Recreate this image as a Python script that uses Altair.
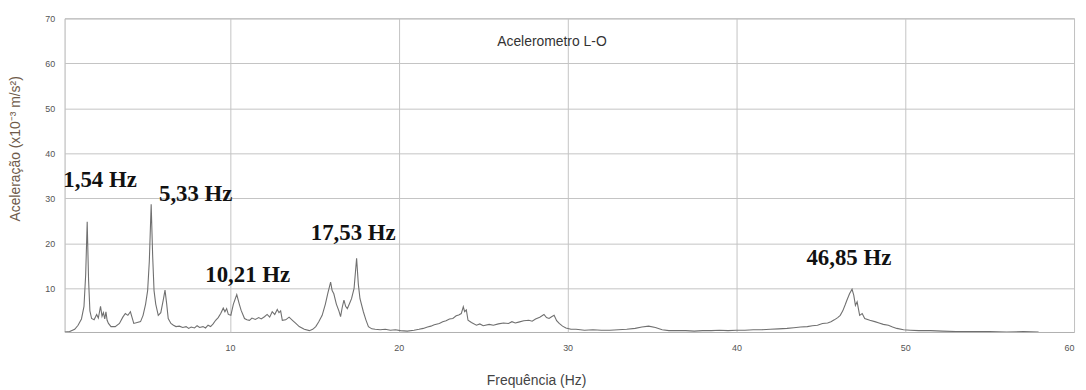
import altair as alt
import pandas as pd

freq = [0.2, 0.5, 0.8, 1.0, 1.2, 1.35, 1.45, 1.54, 1.62, 1.7, 1.8, 1.95, 2.1, 2.2, 2.33, 2.42, 2.5, 2.58, 2.65, 2.72,
        2.8, 2.95, 3.2, 3.45, 3.65, 3.8, 3.95, 4.1, 4.2, 4.3, 4.5, 4.7, 4.85, 5.0, 5.12, 5.22, 5.33, 5.42, 5.5, 5.6,
        5.75, 5.9, 6.05, 6.15, 6.25, 6.34, 6.5, 6.65, 6.8, 7.0, 7.2, 7.4, 7.55, 7.7, 7.9, 8.05, 8.2, 8.4, 8.55, 8.7,
        8.85, 9.0, 9.15, 9.3, 9.45, 9.6, 9.7, 9.8, 9.9, 10.05, 10.2, 10.4, 10.55, 10.66, 10.86, 11.0, 11.15, 11.3, 11.5, 11.7,
        11.85, 12.04, 12.2, 12.35, 12.5, 12.65, 12.8, 12.9, 13.0, 13.1, 13.3, 13.5, 13.7, 13.9, 14.1, 14.4, 14.7, 14.9, 15.08, 15.25,
        15.46, 15.65, 15.8, 15.96, 16.05, 16.15, 16.3, 16.45, 16.55, 16.65, 16.75, 16.85, 16.95, 17.1, 17.2, 17.35, 17.5, 17.6, 17.7, 17.9,
        18.05, 18.2, 18.4, 18.6, 18.9, 19.2, 19.5, 19.8, 20.1, 20.5, 20.9, 21.2, 21.45, 21.7, 21.9, 22.1, 22.4, 22.6, 22.8, 23.0,
        23.2, 23.4, 23.55, 23.7, 23.82, 23.9, 24.0, 24.1, 24.3, 24.6, 24.8, 25.0, 25.35, 25.6, 25.9, 26.2, 26.5, 26.7, 26.9, 27.1,
        27.4, 27.7, 27.9, 28.1, 28.35, 28.6, 28.75, 28.9, 29.05, 29.2, 29.35, 29.5, 29.7, 29.9, 30.2, 30.5, 31.0, 31.5, 32.0, 32.5,
        33.0, 33.5, 34.0, 34.4, 34.8, 35.2, 35.6, 36.0, 36.5, 37.0, 37.5, 38.0, 38.5, 39.0, 39.5, 40.0, 40.5, 41.0, 41.5, 42.0,
        42.5, 43.0, 43.4, 43.8, 44.2, 44.5, 44.8, 45.1, 45.4, 45.6, 45.8, 46.0, 46.15, 46.3, 46.45, 46.55, 46.7, 46.85, 46.95, 47.05,
        47.15, 47.3, 47.45, 47.6, 47.9, 48.2, 48.45, 48.7, 49.0, 49.25, 49.5, 49.9, 50.3, 50.8, 51.5, 52.2, 53.0, 54.0, 55.0, 56.0,
        57.0, 57.9]

amp = [0.3, 0.4, 0.9, 1.8, 3.2, 6.0, 13.0, 24.8, 12.0, 5.0, 3.3, 3.0, 4.2, 3.4, 6.0, 3.8, 4.6, 3.2, 4.8, 2.9,
       2.2, 1.5, 1.5, 2.2, 3.6, 4.4, 4.0, 4.8, 3.5, 2.2, 2.4, 2.6, 4.0, 6.5, 9.5, 16.0, 28.7, 17.0, 9.5, 6.5,
       4.0, 4.6, 7.5, 9.6, 6.5, 3.3, 2.2, 1.8, 1.5, 1.6, 1.3, 1.5, 1.1, 1.4, 1.2, 1.7, 1.3, 1.5, 1.2, 1.8,
       1.5, 2.1, 2.9, 3.5, 4.4, 5.6, 4.8, 5.5, 4.2, 4.0, 6.5, 8.6, 6.5, 5.1, 3.3, 3.0, 2.9, 3.4, 3.1, 3.5,
       3.2, 3.7, 4.2, 3.6, 4.8, 4.2, 5.3, 4.6, 5.0, 2.9, 3.0, 3.6, 2.9, 2.2, 1.5, 0.9, 0.6, 0.9, 1.5, 2.5,
       4.0, 6.5, 9.0, 11.4, 9.5, 8.8, 6.5, 5.0, 3.7, 5.8, 7.4, 6.0, 5.5, 6.8, 7.7, 10.0, 16.7, 11.0, 7.7, 4.8,
       3.0, 1.5, 1.0, 0.9, 0.8, 0.9, 0.7, 0.8, 0.6, 0.5, 0.7, 0.9, 1.1, 1.4, 1.6, 1.9, 2.2, 2.6, 2.8, 3.2,
       3.3, 3.9, 4.1, 4.4, 5.9, 4.8, 5.2, 2.9, 2.4, 1.8, 2.1, 1.7, 2.0, 1.8, 2.1, 2.3, 2.2, 2.6, 2.3, 2.5,
       2.8, 2.9, 2.7, 3.2, 3.6, 4.2, 3.5, 3.3, 3.7, 4.0, 2.8, 2.2, 1.6, 1.2, 0.9, 0.9, 0.7, 0.8, 0.7, 0.7,
       0.8, 0.9, 1.1, 1.4, 1.6, 1.3, 0.8, 0.6, 0.6, 0.6, 0.5, 0.6, 0.6, 0.7, 0.6, 0.7, 0.7, 0.8, 0.8, 0.9,
       1.0, 1.1, 1.25, 1.4, 1.5, 1.7, 1.8, 2.2, 2.3, 2.6, 3.0, 3.5, 4.0, 5.0, 6.4, 7.4, 8.8, 9.8, 8.5, 6.2,
       7.0, 4.0, 4.4, 3.3, 2.9, 2.6, 2.3, 2.0, 1.8, 1.4, 1.1, 0.8, 0.7, 0.6, 0.6, 0.5, 0.4, 0.4, 0.4, 0.3,
       0.4, 0.3]

label_text = ["1,54 Hz", "5,33 Hz", "10,21 Hz", "17,53 Hz", "46,85 Hz"]
label_freq = [2.3, 7.97, 11.05, 17.3, 46.66]
label_amp = [34.0, 30.9, 12.9, 22.3, 16.8]

x_ticks = [10, 20, 30, 40, 50, 60]
y_ticks = [10, 20, 30, 40, 50, 60, 70]

df = pd.DataFrame({"f": freq, "a": amp})
labels = pd.DataFrame({"t": label_text, "f": label_freq, "a": label_amp})

xscale = alt.Scale(domain=[0.2, 60], nice=False, zero=False)
yscale = alt.Scale(domain=[0.3, 70], nice=False, zero=False)

xaxis = alt.Axis(values=x_ticks, title="Frequência (Hz)", ticks=False, domain=False,
                 labelFont="Liberation Sans", labelFontSize=9, labelColor="#555555", labelPadding=12,
                 gridColor="#c4c4c4", gridWidth=1,
                 titleFont="Liberation Sans", titleFontSize=14, titleFontWeight="normal", titleColor="#444444",
                 titleX=475, titleY=53, titleAlign="center", titleBaseline="alphabetic")
yaxis = alt.Axis(values=y_ticks, title="Aceleração (x10⁻³ m/s²)", ticks=False, domain=False,
                 labelFont="Liberation Sans", labelFontSize=9, labelColor="#555555", labelPadding=10,
                 gridColor="#c4c4c4", gridWidth=1,
                 titleFont="Liberation Sans", titleFontSize=14, titleFontWeight="normal", titleColor="#6e5a4a",
                 titleX=-49, titleY=131, titleAngle=-90, titleAlign="center", titleBaseline="middle")

line = alt.Chart(df).mark_line(color="#707070", strokeWidth=1.1, clip=True).encode(
    x=alt.X("f:Q", scale=xscale, axis=xaxis),
    y=alt.Y("a:Q", scale=yscale, axis=yaxis),
)

ann = alt.Chart(labels).mark_text(font="Liberation Serif", fontSize=23, fontWeight="bold",
                                  color="#111111", align="center", baseline="middle").encode(
    x=alt.X("f:Q", scale=xscale),
    y=alt.Y("a:Q", scale=yscale),
    text="t:N",
)

title = alt.Chart(pd.DataFrame({"t": ["Acelerometro L-O"]})).mark_text(
    font="Liberation Sans", fontSize=14, color="#333333", align="center", baseline="middle").encode(
    x=alt.value(491), y=alt.value(24), text="t:N")

chart = alt.layer(line, ann, title).properties(
    width=1017, height=316, autosize="none",
    padding={"left": 57, "top": 9, "right": 4, "bottom": 55},
).configure_view(stroke="#b0b0b0", strokeWidth=1)

chart.save("out.html", embed_options={"renderer": "svg", "actions": False})
